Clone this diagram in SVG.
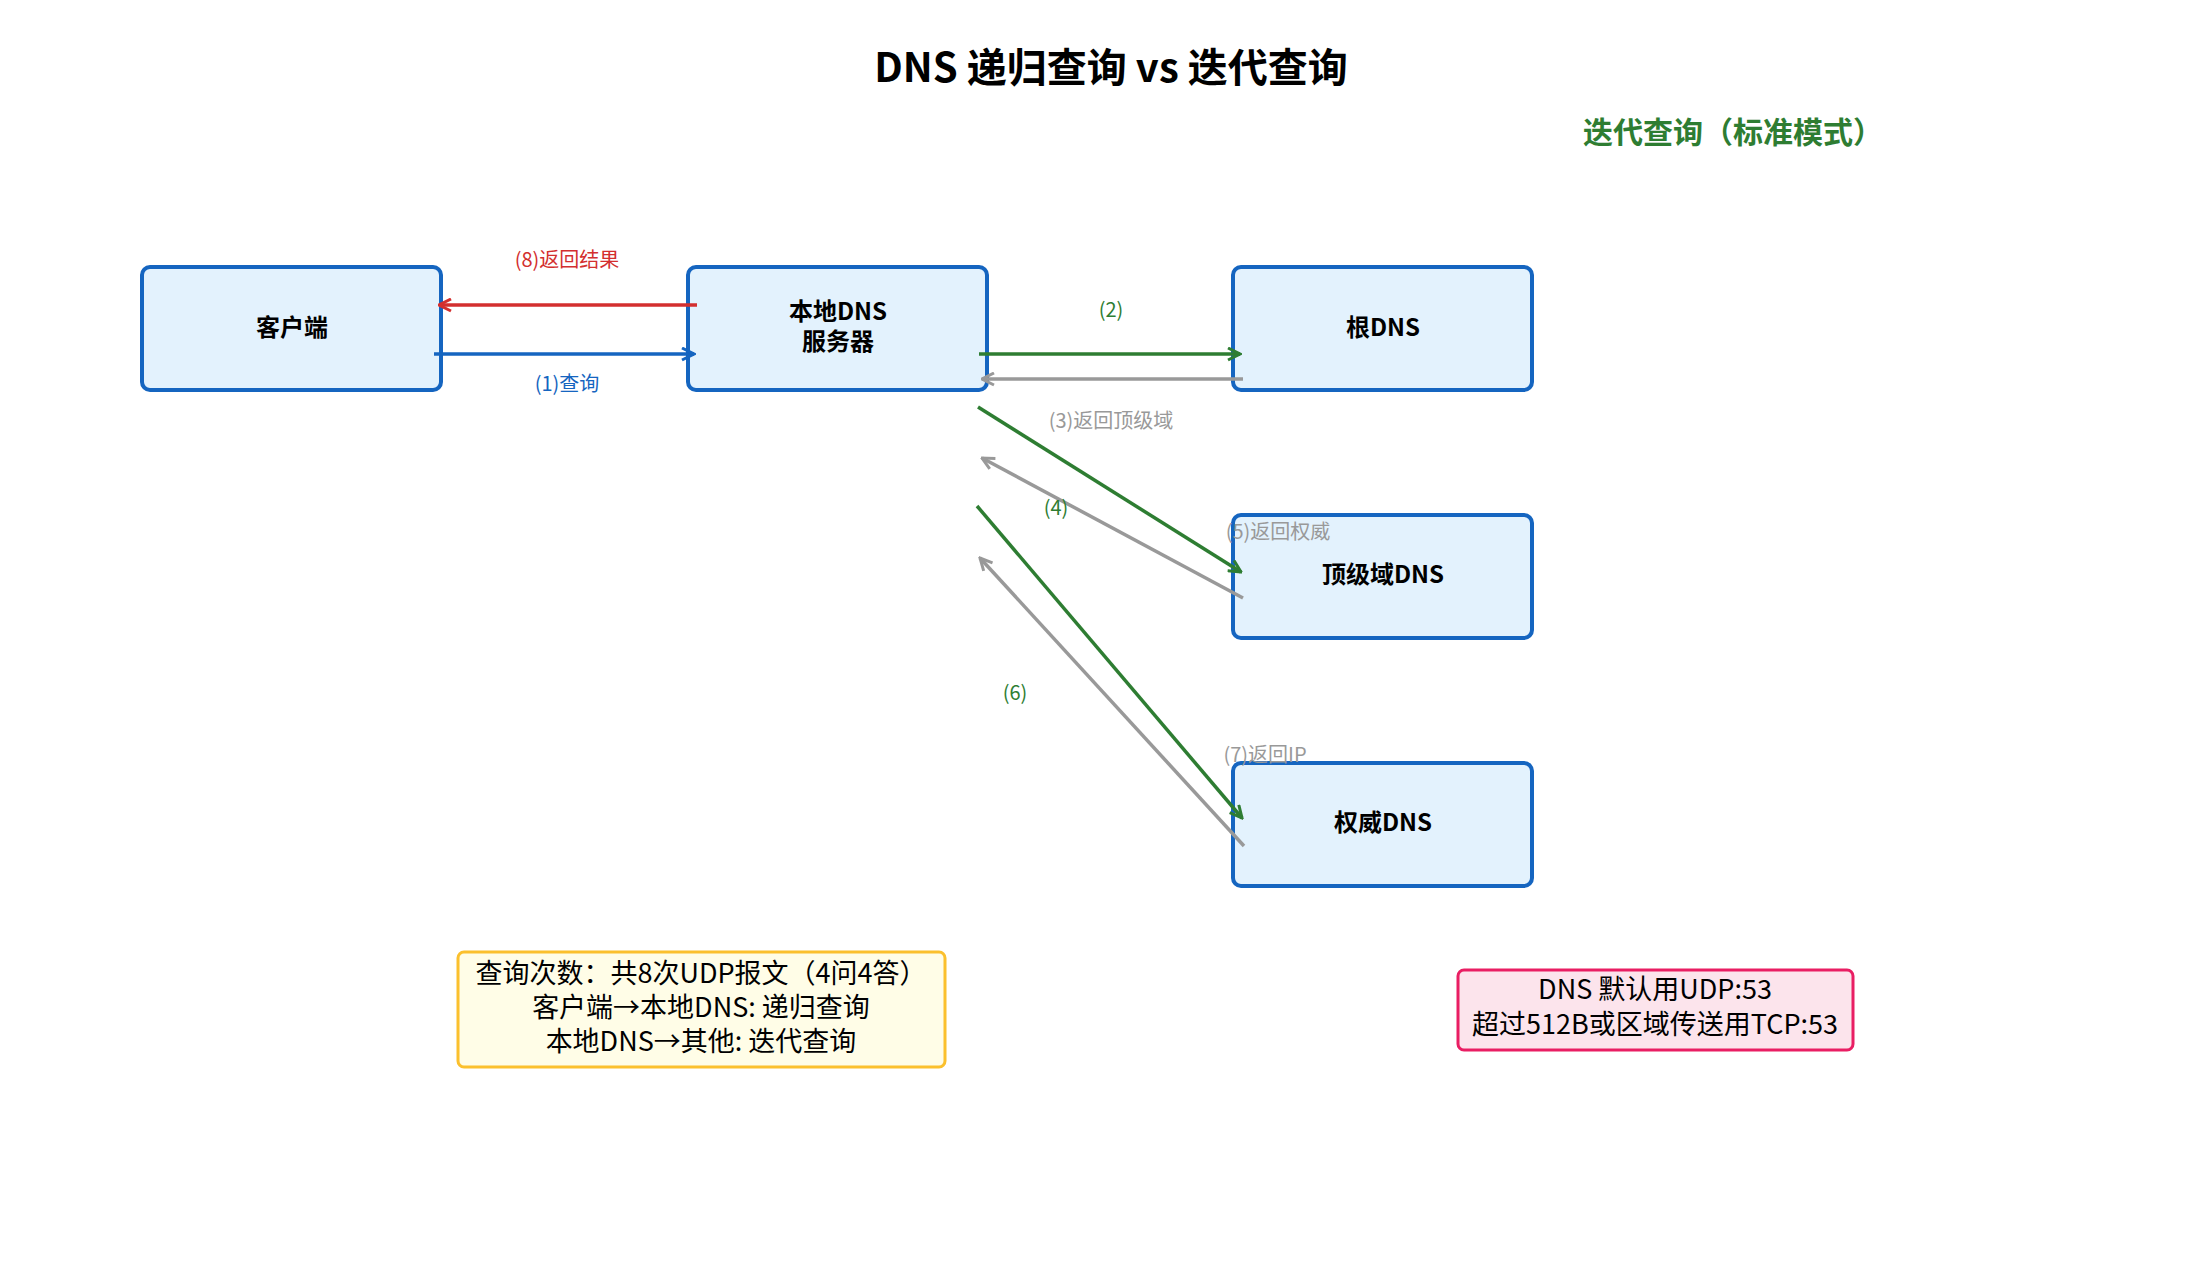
<svg xmlns="http://www.w3.org/2000/svg" width="2210" height="1272" viewBox="0 0 2210 1272">
<style>
text{font-family:"Noto Sans CJK SC","Noto Sans",sans-serif;text-anchor:middle}
.box{fill:#e3f2fd;stroke:#1565c0;stroke-width:4}
.nt{font-size:24px;font-weight:bold;fill:#000}
.lb{font-size:20px}
.ln{fill:none;stroke-width:3.5}
</style>
<defs>
<marker id="ag" viewBox="0 0 10 10" refX="9" refY="5" markerWidth="15" markerHeight="15" markerUnits="userSpaceOnUse" orient="auto"><path d="M1,1L9,5L1,9" fill="none" stroke="#2e7d32" stroke-width="2"/></marker>
<marker id="ay" viewBox="0 0 10 10" refX="9" refY="5" markerWidth="15" markerHeight="15" markerUnits="userSpaceOnUse" orient="auto"><path d="M1,1L9,5L1,9" fill="none" stroke="#999" stroke-width="2"/></marker>
<marker id="ar" viewBox="0 0 10 10" refX="9" refY="5" markerWidth="15" markerHeight="15" markerUnits="userSpaceOnUse" orient="auto"><path d="M1,1L9,5L1,9" fill="none" stroke="#d32f2f" stroke-width="2"/></marker>
<marker id="ab" viewBox="0 0 10 10" refX="9" refY="5" markerWidth="15" markerHeight="15" markerUnits="userSpaceOnUse" orient="auto"><path d="M1,1L9,5L1,9" fill="none" stroke="#1565c0" stroke-width="2"/></marker>
</defs>
<rect width="2210" height="1272" fill="#fff"/>
<text x="1111" y="82" font-size="40" font-weight="bold">DNS 递归查询 vs 迭代查询</text>
<text x="1733" y="143" font-size="30" font-weight="bold" fill="#2e7d32">迭代查询（标准模式）</text>
<g id="client"><rect class="box" x="142" y="267" width="299" height="123" rx="8"/><text class="nt" x="292" y="336">客户端</text></g>
<g id="local"><rect class="box" x="688" y="267" width="299" height="123" rx="8"/><text class="nt" x="838" y="320">本地DNS</text><text class="nt" x="838" y="350">服务器</text></g>
<g id="root"><rect class="box" x="1233" y="267" width="299" height="123" rx="8"/><text class="nt" x="1383" y="336">根DNS</text></g>
<g id="tld"><rect class="box" x="1233" y="515" width="299" height="123" rx="8"/><text class="nt" x="1383" y="583">顶级域DNS</text></g>
<g id="auth"><rect class="box" x="1233" y="763" width="299" height="123" rx="8"/><text class="nt" x="1383" y="831">权威DNS</text></g>
<g id="connectors">
<line class="ln" x1="697" y1="305" x2="439" y2="305" stroke="#d32f2f" marker-end="url(#ar)"/>
<line class="ln" x1="434" y1="354" x2="694" y2="354" stroke="#1565c0" marker-end="url(#ab)"/>
<line class="ln" x1="979" y1="354" x2="1240" y2="354" stroke="#2e7d32" marker-end="url(#ag)"/>
<line class="ln" x1="1243" y1="379" x2="982" y2="379" stroke="#999" marker-end="url(#ay)"/>
<line class="ln" x1="978" y1="407" x2="1241" y2="572" stroke="#2e7d32" marker-end="url(#ag)"/>
<line class="ln" x1="1243" y1="598" x2="982" y2="458" stroke="#999" marker-end="url(#ay)"/>
<line class="ln" x1="977" y1="506" x2="1242" y2="818" stroke="#2e7d32" marker-end="url(#ag)"/>
<line class="ln" x1="1244" y1="846" x2="980" y2="558" stroke="#999" marker-end="url(#ay)"/>
<text class="lb" x="567" y="267" fill="#d32f2f">(8)返回结果</text>
<text class="lb" x="567" y="391" fill="#1565c0">(1)查询</text>
<text class="lb" x="1111" y="317" fill="#2e7d32">(2)</text>
<text class="lb" x="1111" y="428" fill="#999">(3)返回顶级域</text>
<text class="lb" x="1056" y="515" fill="#2e7d32">(4)</text>
<text class="lb" x="1278" y="539" fill="#999">(5)返回权威</text>
<text class="lb" x="1015" y="700" fill="#2e7d32">(6)</text>
<text class="lb" x="1265" y="762" fill="#999">(7)返回IP</text>
</g>
<g id="note1"><rect x="458" y="952" width="487" height="115" rx="6" fill="#fffde7" stroke="#fbc02d" stroke-width="3"/>
<text x="701" y="983" font-size="27">查询次数：共8次UDP报文（4问4答）</text>
<text x="701" y="1017" font-size="27">客户端→本地DNS: 递归查询</text>
<text x="701" y="1051" font-size="27">本地DNS→其他: 迭代查询</text></g>
<g id="note2"><rect x="1458" y="970" width="395" height="80" rx="6" fill="#fce4ec" stroke="#e91e63" stroke-width="3"/>
<text x="1655" y="999" font-size="27">DNS 默认用UDP:53</text>
<text x="1655" y="1034" font-size="27">超过512B或区域传送用TCP:53</text></g>
</svg>
